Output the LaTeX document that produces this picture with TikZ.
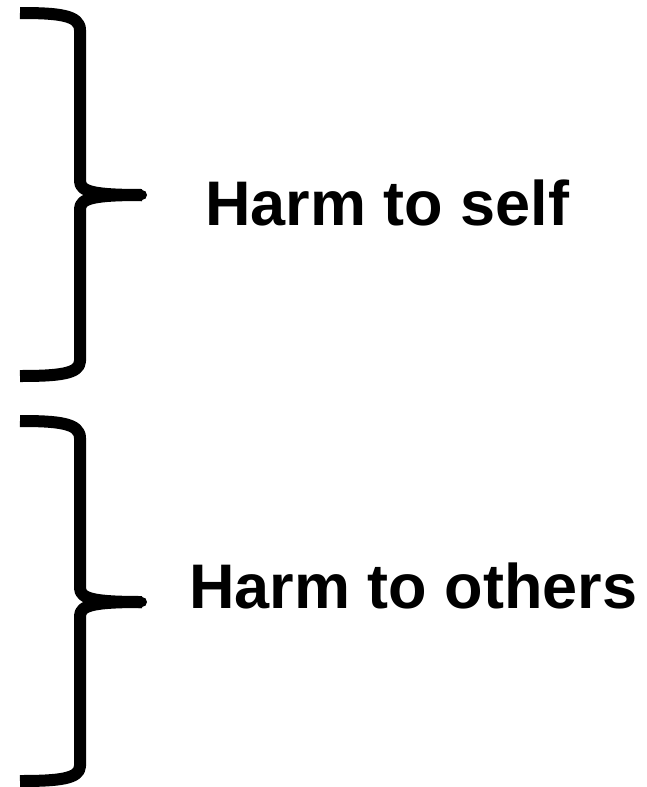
\documentclass[tikz,border=0pt]{standalone}
\usepackage{fontspec}
\setmainfont{Liberation Sans}
\begin{document}
\begin{tikzpicture}[x=1pt,y=-1pt,
  bracestroke/.style={line width=12pt,line cap=butt,line join=round},
  label/.style={font=\fontsize{63}{70}\selectfont\bfseries,anchor=base,inner sep=0pt}]
\useasboundingbox (0,0) rectangle (647,787);
% upper brace
\coordinate (t1) at (142,195);
\draw[bracestroke] (20,13) .. controls (58,13) and (80,15) .. (80,30) -- (80,181) .. controls (80,192) and (95,195) .. (t1);
\draw[bracestroke] (t1) .. controls (95,195) and (80,198) .. (80,209) -- (80,361) .. controls (80,374) and (58,376) .. (20,376);
\fill (t1) circle (5pt);
% lower brace
\coordinate (t2) at (142,602);
\draw[bracestroke] (20,421) .. controls (58,421) and (80,423) .. (80,438) -- (80,588) .. controls (80,599) and (95,602) .. (t2);
\draw[bracestroke] (t2) .. controls (95,602) and (80,605) .. (80,616) -- (80,766) .. controls (80,779) and (58,781) .. (20,781);
\fill (t2) circle (5pt);
\node[label] (self) at (387.5,225) {Harm to self};
\node[label] (others) at (413.5,608) {Harm to others};
\end{tikzpicture}
\end{document}
